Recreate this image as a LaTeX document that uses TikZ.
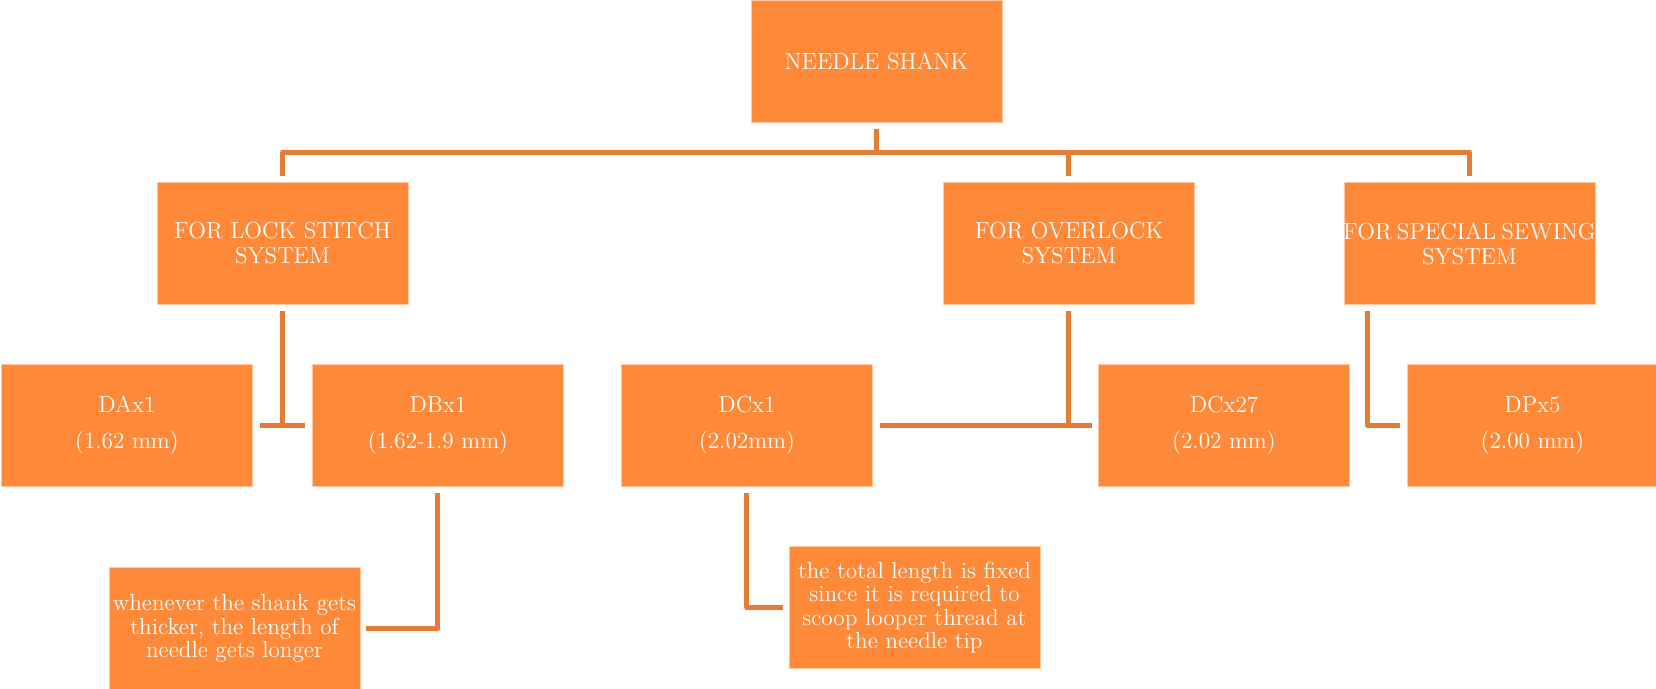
\documentclass[tikz,border=0pt]{standalone}
\usepackage{tikz}
\usetikzlibrary{arrows,shapes,calc}
\definecolor{boxfill}{RGB}{253,137,57}
\definecolor{boxedge}{RGB}{255,200,160}
\definecolor{linkline}{RGB}{229,124,53}

\begin{document}
\begin{tikzpicture}
\tikzstyle{main}=[rectangle, fill=boxfill, draw=boxedge, line width=0.4pt, node distance = 91pt, minimum width = 125.5pt, minimum height = 61pt, inner sep=0.5pt, align=center, text=white, font=\fontsize{11.6}{12.5}\selectfont]
\tikzstyle{leaf}=[main, font=\fontsize{11.6}{13}\selectfont]
\tikzstyle{note}=[main, font=\fontsize{11.6}{11.6}\selectfont]
\tikzstyle{connect}=[draw=linkline, line width=2.5pt, line join=round]

  \useasboundingbox (-438.25pt,30.75pt) rectangle (389.75pt,-313.75pt);

  \node[main] (root)     at (0,0)                              {NEEDLE SHANK};

  \node[main] (lock)     [below of =root,     xshift=-297pt]   {FOR LOCK STITCH\\SYSTEM};
  \node[main] (overlock) [below of =root,     xshift=96.25pt]  {FOR OVERLOCK\\SYSTEM};
  \node[main] (special)  [below of =root,     xshift=296.5pt]  {\makebox[120pt]{\spaceskip=0.22em FOR SPECIAL SEWING}\\SYSTEM};

  \node[leaf] (DAx1)     [below of =lock,     xshift=-77.75pt] {DAx1\\[5pt](1.62 mm)};
  \node[leaf] (DBx1)     [below of =lock,     xshift=77.75pt]  {DBx1\\[5pt](1.62-1.9 mm)};
  \node[leaf] (DCx1)     [below of =overlock, xshift=-161pt]   {DCx1\\[5pt](2.02mm)};
  \node[leaf] (DCx27)    [below of =overlock, xshift=77.5pt]   {DCx27\\[5pt](2.02 mm)};
  \node[leaf] (DPx5)     [below of =special,  xshift=31.5pt]   {DPx5\\[5pt](2.00 mm)};

  \node[note] (whenever) [below of =DBx1,     xshift=-101.75pt, yshift=-10.5pt] {whenever the shank gets\\thicker, the length of\\needle gets longer};
  \node[note] (total)    [below of =DCx1,     xshift=83.75pt]  {the total length is fixed\\since it is required to\\scoop looper thread at\\the needle tip};

  % root to systems
  \draw[connect] ([yshift=-3pt]root.south) |- ([yshift=15pt]lock.north) -- ([yshift=3pt]lock.north);
  \draw[connect] ([yshift=-3pt]root.south) |- ([yshift=15pt]overlock.north) -- ([yshift=3pt]overlock.north);
  \draw[connect] ([yshift=-3pt]root.south) |- ([yshift=15pt]special.north) -- ([yshift=3pt]special.north);

  % systems to needles
  \draw[connect] ([yshift=-3pt]lock.south) |- ([xshift=3.5pt]DAx1.east);
  \draw[connect] ([yshift=-3pt]lock.south) |- ([xshift=-3.5pt]DBx1.west);
  \draw[connect] ([yshift=-3pt]overlock.south) |- ([xshift=3.5pt]DCx1.east);
  \draw[connect] ([yshift=-3pt]overlock.south) |- ([xshift=-3pt]DCx27.west);
  \draw[connect] ([xshift=12pt,yshift=-3pt]special.south west) |- ([xshift=-3.5pt]DPx5.west);

  % notes
  \draw[connect] ([yshift=-3pt]DBx1.south) |- ([xshift=3pt]whenever.east);
  \draw[connect] ([yshift=-3pt]DCx1.south) |- ([xshift=-3pt]total.west);

\end{tikzpicture}
\end{document}
